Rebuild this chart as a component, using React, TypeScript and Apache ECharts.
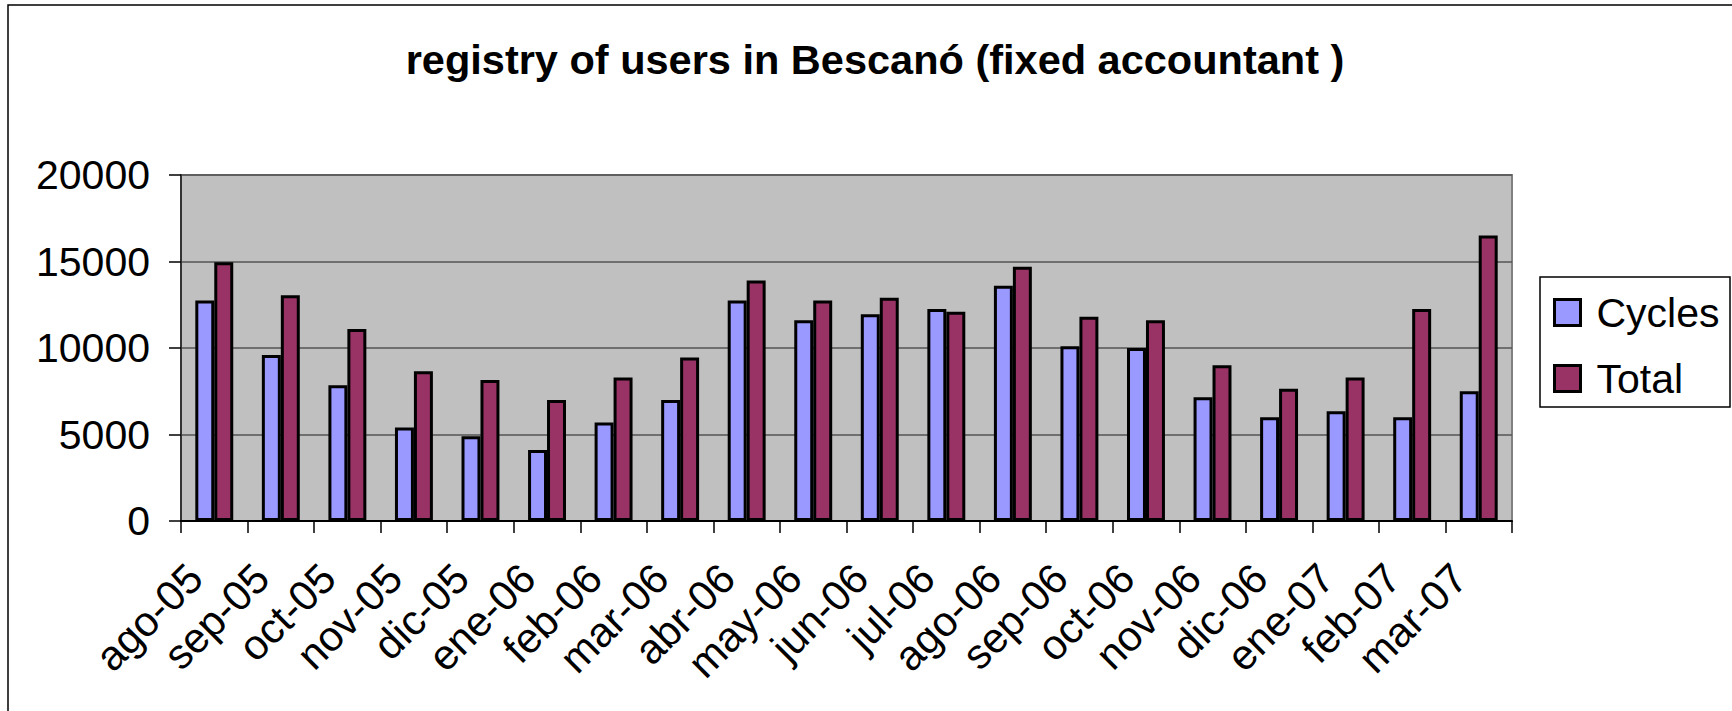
import React, { useEffect, useRef } from "react";
import * as echarts from "echarts";

const categories = [
  "ago-05", "sep-05", "oct-05", "nov-05", "dic-05", "ene-06", "feb-06", "mar-06", "abr-06", "may-06",
  "jun-06", "jul-06", "ago-06", "sep-06", "oct-06", "nov-06", "dic-06", "ene-07", "feb-07", "mar-07",
];
const cycles = [12750, 9600, 7850, 5400, 4900, 4100, 5700, 7000, 12750, 11600, 11950, 12250, 13600, 10100, 10000, 7150, 6000, 6350, 6000, 7500];
const total = [14950, 13050, 11100, 8650, 8150, 7000, 8300, 9450, 13900, 12750, 12900, 12100, 14700, 11800, 11600, 9000, 7650, 8300, 12250, 16500];
const seriesNames = ["Cycles", "Total"];
const yMin = 0;
const yMax = 20000;
const yStep = 5000;
const titleText = "registry of users in Bescanó (fixed accountant )";

const FONT = "'Liberation Sans', Arial, sans-serif";

export default function App() {
  const ref = useRef<HTMLDivElement>(null);
  useEffect(() => {
    if (!ref.current) return;
    const chart = echarts.init(ref.current, null, { renderer: "svg" });
    chart.setOption({
      animation: false,
      backgroundColor: "#ffffff",
      textStyle: { fontFamily: FONT },
      graphic: [
        {
          type: "rect",
          z: 0,
          shape: { x: 8, y: 5, width: 1800, height: 800 },
          style: { fill: "none", stroke: "#000", lineWidth: 1.5 },
        },
        {
          type: "rect",
          z: 0,
          shape: { x: 1540, y: 277, width: 190, height: 130 },
          style: { fill: "#fff", stroke: "#000", lineWidth: 1.5 },
        },
        {
          type: "text",
          z: 10,
          x: 875,
          y: 59,
          style: {
            text: titleText,
            font: `bold 41.5px ${FONT}`,
            fill: "#000",
            textAlign: "center",
            textVerticalAlign: "middle",
          },
        },
      ],
      legend: {
        orient: "vertical",
        left: 1553,
        top: 292,
        itemWidth: 26,
        itemHeight: 26,
        itemGap: 25,
        icon: "rect",
        padding: 0,
        z: 20,
        itemStyle: { borderColor: "#000", borderWidth: 3 },
        textStyle: { fontSize: 41, color: "#000", fontFamily: FONT, padding: [0, 0, 0, 11] },
        data: seriesNames,
      },
      grid: {
        left: 181,
        top: 175,
        width: 1331,
        height: 346,
        show: true,
        backgroundColor: "#C0C0C0",
        borderColor: "#808080",
        borderWidth: 2,
        containLabel: false,
      },
      xAxis: {
        type: "category",
        data: categories,
        boundaryGap: true,
        axisLine: { show: true, lineStyle: { color: "#000", width: 2 } },
        axisTick: { show: true, length: 12, interval: 0, alignWithLabel: false, lineStyle: { color: "#000", width: 1.5 } },
        axisLabel: {
          interval: 0,
          rotate: 45,
          fontSize: 42,
          color: "#000",
          fontFamily: FONT,
          margin: 31,
          padding: [0, 27, 0, 0],
        },
        splitLine: { show: false },
      },
      yAxis: {
        type: "value",
        min: yMin,
        max: yMax,
        interval: yStep,
        axisLine: { show: true, lineStyle: { color: "#333", width: 2 } },
        axisTick: { show: true, length: 12, lineStyle: { color: "#000", width: 1.5 } },
        axisLabel: {
          fontSize: 41,
          color: "#000",
          fontFamily: FONT,
          margin: 31,
          formatter: (v: number) => String(v),
        },
        splitLine: { show: true, lineStyle: { color: "#555", width: 1.5 } },
      },
      series: [
        {
          name: seriesNames[0],
          type: "bar",
          data: cycles,
          barGap: "0%",
          barCategoryGap: "43%",
          itemStyle: { color: "#9999FF", borderColor: "#000", borderWidth: 3 },
        },
        {
          name: seriesNames[1],
          type: "bar",
          data: total,
          barGap: "0%",
          barCategoryGap: "43%",
          itemStyle: { color: "#993366", borderColor: "#000", borderWidth: 3 },
        },
      ],
    });
    return () => chart.dispose();
  }, []);
  return (
    <div
      ref={ref}
      style={{ position: "absolute", left: 0, top: 0, width: 1732, height: 711 }}
    />
  );
}
